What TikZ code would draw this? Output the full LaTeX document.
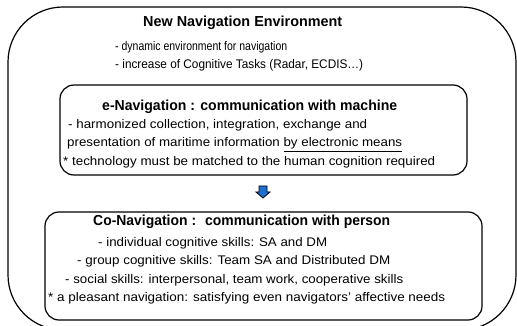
\documentclass[tikz,border=0pt]{standalone}
\usepackage{fontspec}
\setmainfont{Liberation Sans}
\usepackage{graphicx}
\usetikzlibrary{calc}
\newcommand{\fw}[2]{\resizebox{#1pt}{\height}{#2}}
\begin{document}
\begin{tikzpicture}[x=1pt,y=-1pt,
  frame/.style={draw=black,line width=1.2pt,rounded corners=#1,inner sep=0pt},
  ttl/.style={anchor=base west,inner sep=0pt,font=\fontsize{14.5}{16}\selectfont\bfseries},
  txt/.style={anchor=base west,inner sep=0pt,font=\fontsize{12.5}{14}\selectfont}]
\useasboundingbox (0,0) rectangle (517,326);
\fill[white] (0,0) rectangle (517,326);
% outer frame
\node[frame=55pt,minimum width=508pt,minimum height=323pt] (outer) at (262,168.5) {};
% box 1
\node[frame=14pt,minimum width=407pt,minimum height=90pt] (box1) at (263.5,130) {};
% box 2
\node[frame=14pt,minimum width=437pt,minimum height=108pt] (box2) at (263.5,266) {};
% arrow
\coordinate (arr) at (263,186);
\draw[fill={rgb,255:red,30;green,110;blue,210},line width=0.8pt]
  ($(arr)+(-4,0)$) -- ++(8,0) -- ++(0,6) -- ++(3,0) -- ($(arr)+(0,12)$) -- ($(arr)+(-7,6)$) -- ++(3,0) -- cycle;
% texts
\node[ttl] (t0) at (143,27) {\fw{199}{New Navigation Environment}};
\node[txt] (t1) at (115,51) {\fw{172}{- dynamic environment for navigation}};
\node[txt] (t2) at (115,69) {\fw{248}{- increase of Cognitive Tasks (Radar, ECDIS\dots)}};
\node[ttl] (b1t) at (102,110.5) {\fw{295}{e-Navigation : communication with machine}};
\node[txt] (b1a) at (68,128.5) {\fw{299}{- harmonized collection, integration, exchange and}};
\node[txt] (b1b) at (67,147) {\fw{335}{presentation of maritime information \underline{by electronic means}}};
\node[txt] (b1c) at (63,166) {\fw{372}{* technology must be matched to the human cognition required}};
\node[ttl] (b2t) at (93,225.5) {\fw{297}{Co-Navigation : \ communication with person}};
\node[txt] (b2a) at (98,246) {\fw{229}{- individual cognitive skills: SA and DM}};
\node[txt] (b2b) at (77,264.5) {\fw{313}{- group cognitive skills: Team SA and Distributed DM}};
\node[txt] (b2c) at (65,283) {\fw{338}{- social skills: interpersonal, team work, cooperative skills}};
\node[txt] (b2d) at (48,301) {\fw{397}{* a pleasant navigation: satisfying even navigators' affective needs}};
\end{tikzpicture}
\end{document}
